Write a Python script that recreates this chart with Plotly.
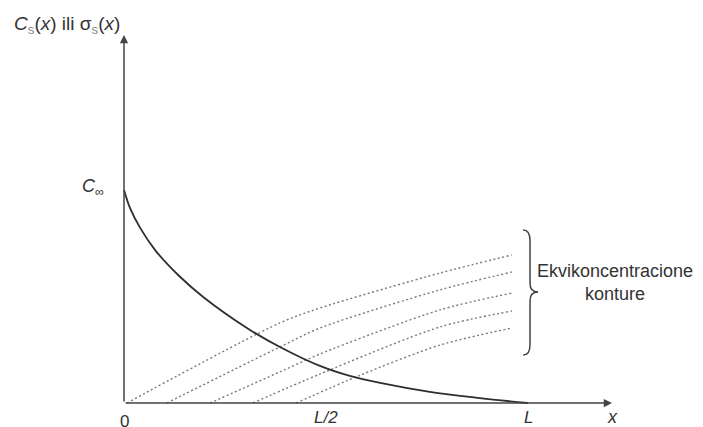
import plotly.graph_objects as go

# ---- data (x in units of L, y in units of C_inf) ----
curve_x = [0.0, 0.015, 0.040, 0.077, 0.134, 0.196, 0.312, 0.386, 0.485, 0.559, 0.634, 0.757, 0.881, 1.0]
curve_y = [1.0, 0.915, 0.822, 0.718, 0.601, 0.498, 0.343, 0.263, 0.174, 0.127, 0.094, 0.052, 0.023, 0.0]

contour1_x = [0.007, 0.386, 0.485, 0.782, 0.960]
contour1_y = [0.0, 0.376, 0.446, 0.610, 0.695]
contour2_x = [0.106, 0.386, 0.485, 0.782, 0.960]
contour2_y = [0.0, 0.263, 0.352, 0.531, 0.615]
contour3_x = [0.213, 0.386, 0.485, 0.782, 0.960]
contour3_y = [0.0, 0.146, 0.230, 0.437, 0.516]
contour4_x = [0.319, 0.485, 0.782, 0.960]
contour4_y = [0.0, 0.136, 0.357, 0.432]
contour5_x = [0.426, 0.584, 0.782, 0.960]
contour5_y = [0.0, 0.130, 0.272, 0.352]

tick_vals = [0.0, 0.5, 1.0]
tick_labels = ["0", "<i>L/2</i>", "<i>L</i>"]
c_inf_value = 1.0
y_axis_end = 1.728
x_axis_end = 1.208

FONT = "Arial, Liberation Sans, sans-serif"
INK = "#333333"

fig = go.Figure()

contours = [(contour1_x, contour1_y), (contour2_x, contour2_y), (contour3_x, contour3_y),
            (contour4_x, contour4_y), (contour5_x, contour5_y)]
for cx, cy in contours:
    fig.add_trace(go.Scatter(x=cx, y=cy, mode="lines",
                             line=dict(color="#7a7a7a", width=1.4, dash="2px,2.5px", shape="spline", smoothing=0.8),
                             hoverinfo="skip", showlegend=False))

fig.add_trace(go.Scatter(x=curve_x, y=curve_y, mode="lines",
                         line=dict(color="#2e2e2e", width=1.8, shape="spline", smoothing=1.0),
                         hoverinfo="skip", showlegend=False))

annotations = []
# axes with arrows
annotations.append(dict(x=0, y=y_axis_end, ax=0, ay=0, xref="x", yref="y", axref="x", ayref="y",
                        text="", showarrow=True, arrowhead=2, arrowsize=1.1, arrowwidth=1.5,
                        arrowcolor="#444444", standoff=0, startstandoff=0))
annotations.append(dict(x=x_axis_end, y=0, ax=0, ay=0, xref="x", yref="y", axref="x", ayref="y",
                        text="", showarrow=True, arrowhead=2, arrowsize=1.1, arrowwidth=1.5,
                        arrowcolor="#444444", standoff=0, startstandoff=0))

# tick labels
for tv, tl in zip(tick_vals, tick_labels):
    annotations.append(dict(x=tv, y=-0.068 if tl != "0" else -0.085, xref="x", yref="y", text=tl,
                            showarrow=False, font=dict(family=FONT, size=17, color=INK),
                            xanchor="center", yanchor="middle"))
annotations.append(dict(x=x_axis_end, y=-0.068, xref="x", yref="y", text="<i>x</i>",
                        showarrow=False, font=dict(family=FONT, size=18, color=INK),
                        xanchor="center", yanchor="middle"))

# C_inf label
annotations.append(dict(x=-0.045, y=c_inf_value + 0.01, xref="x", yref="y",
                        text="<i>C</i><sub>∞</sub>", showarrow=False,
                        font=dict(family=FONT, size=18, color=INK),
                        xanchor="right", yanchor="middle"))

# y-axis title
annotations.append(dict(x=12 / 703, y=1 - 25 / 427, xref="paper", yref="paper",
                        text="<i>C</i><sub><span style='color:#8a8a8a'>s</span></sub>(<i>x</i>) ili σ<sub><span style='color:#8a8a8a'>s</span></sub>(<i>x</i>)",
                        showarrow=False, font=dict(family=FONT, size=19, color=INK),
                        xanchor="left", yanchor="middle"))

# brace label
end_x = max(contour1_x)
annotations.append(dict(x=1.215, y=0.568, xref="x", yref="y",
                        text="Ekvikoncentracione<br>konture", showarrow=False,
                        font=dict(family=FONT, size=18, color=INK),
                        xanchor="center", yanchor="middle", align="center"))

# brace shape (decoration next to contour ends)
bx0 = end_x + 0.028
bx1 = end_x + 0.045
btip = end_x + 0.065
btop, bmid, bbot = 0.812, 0.521, 0.225
brace_path = (f"M {bx0},{btop} Q {bx1},{btop} {bx1},{btop-0.05} "
              f"L {bx1},{bmid+0.04} Q {bx1},{bmid} {btip},{bmid} "
              f"Q {bx1},{bmid} {bx1},{bmid-0.04} "
              f"L {bx1},{bbot+0.05} Q {bx1},{bbot} {bx0},{bbot}")

fig.update_layout(
    width=703, height=427,
    margin=dict(l=0, r=0, t=0, b=0, autoexpand=False),
    paper_bgcolor="white", plot_bgcolor="white",
    xaxis=dict(range=[-124 / 404, (703 - 124) / 404], visible=False, fixedrange=True),
    yaxis=dict(range=[-24 / 213, 403 / 213], visible=False, fixedrange=True),
    annotations=annotations,
    shapes=[dict(type="path", path=brace_path, xref="x", yref="y",
                 line=dict(color="#444444", width=1.5))],
    showlegend=False,
)

fig.write_html("out.html", config={"displayModeBar": False},
               post_script="document.body.style.margin='0';document.body.style.padding='0';")
